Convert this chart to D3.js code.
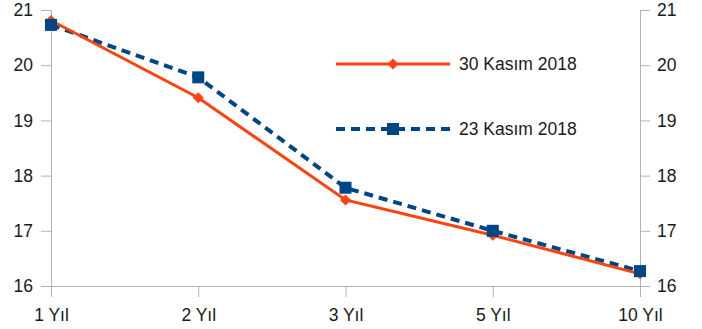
<!DOCTYPE html>
<html>
<head>
<meta charset="utf-8">
<script src="https://cdn.jsdelivr.net/npm/d3@7"></script>
<style>
  html, body { margin: 0; padding: 0; background: #fff; }
  svg { display: block; font-family: "Liberation Sans", Arial, sans-serif; }
</style>
</head>
<body>
<svg id="chart" width="702" height="329"></svg>
<script>
// Yield curve: maturities and yields (%) for two dates
const maturities = ["1 Yıl", "2 Yıl", "3 Yıl", "5 Yıl", "10 Yıl"];
const yields30Nov = [20.81, 19.41, 17.56, 16.92, 16.22];
const yields23Nov = [20.73, 19.78, 17.78, 17.00, 16.27];
const yTicks = [16, 17, 18, 19, 20, 21];
const seriesNames = ["30 Kasım 2018", "23 Kasım 2018"];

const svg = d3.select("#chart");
const plotLeft = 51, plotRight = 640, plotTop = 10, plotBottom = 286;
const fontSize = "17.5px";

const x = d3.scalePoint().domain(maturities).range([plotLeft, plotRight]);
const y = d3.scaleLinear().domain([16, 21]).range([plotBottom, plotTop]);

const axisColor = "#b3b3b3";

// Left axis
const gl = svg.append("g").attr("transform", `translate(${plotLeft},0)`)
  .call(d3.axisLeft(y).tickValues(yTicks).tickSize(10).tickPadding(8).tickFormat(d3.format("d")));
// Right axis
const gr = svg.append("g").attr("transform", `translate(${plotRight},0)`)
  .call(d3.axisRight(y).tickValues(yTicks).tickSize(10).tickPadding(7).tickFormat(d3.format("d")));
// Bottom axis
const gb = svg.append("g").attr("transform", `translate(0,${plotBottom})`)
  .call(d3.axisBottom(x).tickSize(11).tickPadding(12));

[gl, gr, gb].forEach(g => {
  g.select(".domain").attr("stroke", axisColor).attr("stroke-width", 1);
  g.selectAll(".tick line").attr("stroke", axisColor);
  g.selectAll(".tick text").attr("fill", "#1a1a1a").style("font-size", fontSize)
    .style("font-family", "'Liberation Sans', Arial, sans-serif");
});
// Axis lines without end caps; bottom line runs out to the left tick
gb.select(".domain").attr("d", `M${plotLeft - 10},0.5H${plotRight}`);
gl.select(".domain").attr("d", `M0.5,${plotTop}V${plotBottom}`);
gr.select(".domain").attr("d", `M0.5,${plotTop}V${plotBottom}`);

const line = d3.line().x((d, i) => x(maturities[i])).y(d => y(d));

const orange = "#ff420e", blue = "#004586";

// 23 Kasım series: dashed blue with square markers
svg.append("path").datum(yields23Nov)
  .attr("d", line).attr("fill", "none")
  .attr("stroke", blue).attr("stroke-width", 4).attr("stroke-dasharray", "9,6");

// 30 Kasım series: solid orange with diamond markers
svg.append("path").datum(yields30Nov)
  .attr("d", line).attr("fill", "none")
  .attr("stroke", orange).attr("stroke-width", 3);

const diamond = s => `M0,${-s}L${s},0L0,${s}L${-s},0Z`;

svg.append("g").selectAll("path").data(yields30Nov).join("path")
  .attr("transform", (d, i) => `translate(${x(maturities[i])},${y(d)})`)
  .attr("d", diamond(5.5)).attr("fill", orange);

svg.append("g").selectAll("rect").data(yields23Nov).join("rect")
  .attr("x", (d, i) => x(maturities[i]) - 6)
  .attr("y", d => y(d) - 6)
  .attr("width", 12).attr("height", 12).attr("fill", blue);

// Legend
const legend = svg.append("g");
const lx0 = 336, lx1 = 450, lmid = 393;
const items = [
  { name: seriesNames[0], color: orange, dash: null, width: 3, yPos: 64, marker: "diamond" },
  { name: seriesNames[1], color: blue, dash: "9,6", width: 4, yPos: 129, marker: "square" }
];
items.forEach(it => {
  legend.append("line").attr("x1", lx0).attr("x2", lx1).attr("y1", it.yPos).attr("y2", it.yPos)
    .attr("stroke", it.color).attr("stroke-width", it.width)
    .attr("stroke-dasharray", it.dash);
  if (it.marker === "diamond") {
    legend.append("path").attr("transform", `translate(${lmid},${it.yPos})`)
      .attr("d", diamond(5.5)).attr("fill", it.color);
  } else {
    legend.append("rect").attr("x", lmid - 6).attr("y", it.yPos - 6)
      .attr("width", 12).attr("height", 12).attr("fill", it.color);
  }
  legend.append("text").attr("x", 459).attr("y", it.yPos).attr("dy", "0.35em")
    .attr("fill", "#1a1a1a").style("font-size", fontSize).text(it.name);
});
</script>
</body>
</html>
